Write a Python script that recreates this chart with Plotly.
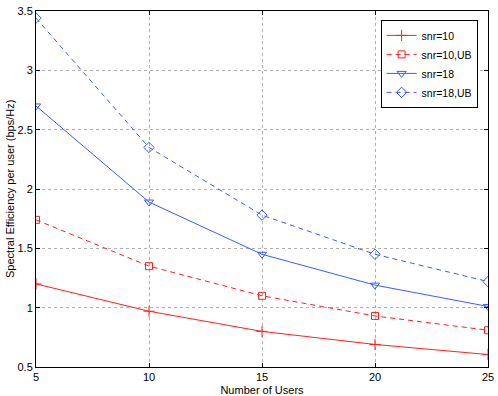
import plotly.graph_objects as go

users = [5, 10, 15, 20, 25]
snr10 = [1.20, 0.97, 0.80, 0.69, 0.605]
snr10_ub = [1.74, 1.35, 1.10, 0.93, 0.81]
snr18 = [2.70, 1.89, 1.45, 1.19, 1.01]
snr18_ub = [3.44, 2.35, 1.78, 1.45, 1.22]

red = '#ff2020'
blue = '#3a5cff'

fig = go.Figure()
# matlab style line series
fig.add_trace(go.Scatter(x=users, y=snr10, name='snr=10', mode='lines+markers',
                         line=dict(color=red, width=1),
                         marker=dict(symbol='cross-thin', size=8, line=dict(color=red, width=1))))
fig.add_trace(go.Scatter(x=users, y=snr10_ub, name='snr=10,UB', mode='lines+markers',
                         line=dict(color=red, width=1, dash='5px,4px'),
                         marker=dict(symbol='square-open', size=7, color=red, line=dict(width=1))))
fig.add_trace(go.Scatter(x=users, y=snr18, name='snr=18', mode='lines+markers',
                         line=dict(color=blue, width=1),
                         marker=dict(symbol='triangle-down-open', size=8, color=blue, line=dict(width=1))))
fig.add_trace(go.Scatter(x=users, y=snr18_ub, name='snr=18,UB', mode='lines+markers',
                         line=dict(color=blue, width=1, dash='5px,4px'),
                         marker=dict(symbol='diamond-open', size=8, color=blue, line=dict(width=1))))

axis_style = dict(showline=True, linecolor='black', linewidth=1, mirror='ticks',
                  ticks='inside', ticklen=4, tickcolor='black', automargin=False,
                  showgrid=True, gridcolor='#b0b0b0', griddash='dot', gridwidth=1,
                  zeroline=False, tickfont=dict(size=11, color='black'))

fig.update_xaxes(range=[5, 25], tickvals=[5, 10, 15, 20, 25],
                 title=dict(text='Number of Users', font=dict(size=11)), **axis_style)
fig.update_yaxes(range=[0.5, 3.5], tickvals=[0.5, 1, 1.5, 2, 2.5, 3, 3.5], **axis_style)

# y label as annotation so it can sit between the edge and the tick labels
fig.add_annotation(text='Spectral Efficiency per user (bps/Hz)', textangle=-90,
                   xref='paper', yref='paper', x=0, y=0.5, xshift=-26,
                   xanchor='center', yanchor='middle', showarrow=False,
                   font=dict(size=11, color='black'))

fig.update_layout(
    width=498, height=396,
    font=dict(family='Liberation Sans, Arial, sans-serif', size=11, color='black'),
    plot_bgcolor='white', paper_bgcolor='white',
    margin=dict(l=36, r=10, t=11, b=29),
    showlegend=True,
    legend=dict(x=0.977, y=0.975, xanchor='right', yanchor='top',
                bgcolor='white', bordercolor='black', borderwidth=1,
                font=dict(size=10.5), tracegroupgap=0, itemwidth=30),
)

# page body has an 8px default margin, drop it so the figure sits at 0,0
fig.write_html('out.html', config={'displayModeBar': False},
               post_script="document.body.style.margin='0';")
